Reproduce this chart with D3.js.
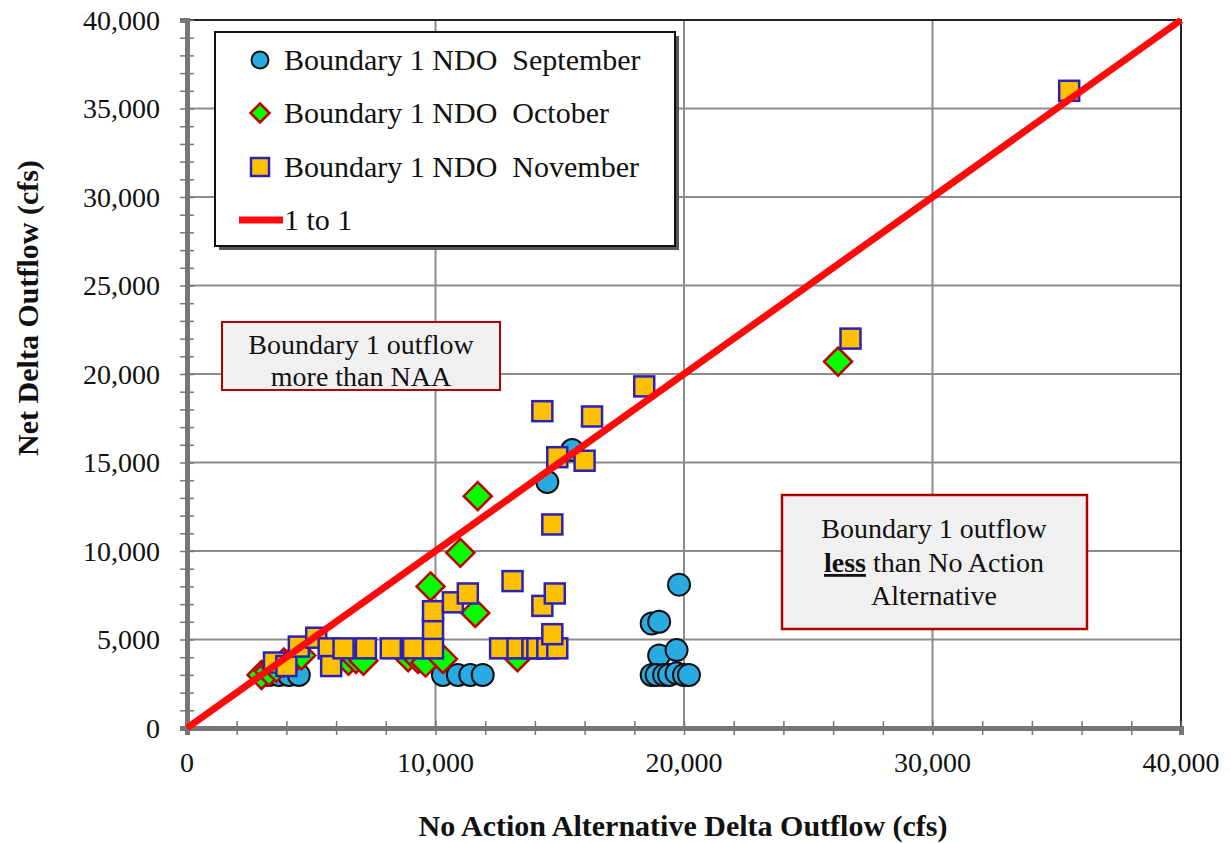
<!DOCTYPE html>
<html>
<head>
<meta charset="utf-8">
<script src="https://cdn.jsdelivr.net/npm/d3@7"></script>
<style>
  body { margin: 0; background: #fff; }
  svg { display: block; }
  text { font-family: "Liberation Serif", "Times New Roman", serif; fill: #111; }
</style>
</head>
<body>
<div id="chart"></div>
<script>
// values
const sepX = [3300, 3700, 4100, 4500, 10300, 10900, 11400, 11900, 14500, 15500, 18700, 19000, 19000, 19700, 19800, 18700, 18900, 19200, 19400, 19700, 20000, 20200];
const sepY = [3000, 3000, 3000, 3000, 3000, 3000, 3000, 3000, 13900, 15700, 5900, 6000, 4100, 4400, 8100, 3000, 3000, 3000, 3000, 3100, 3000, 3000];

const octX = [3000, 3300, 3600, 3900, 4300, 4600, 6500, 6800, 7100, 8900, 9300, 9600, 10300, 9800, 11000, 11600, 11700, 13300, 26200];
const octY = [3000, 3200, 3400, 3700, 3900, 4100, 3800, 3900, 3800, 4000, 3900, 3700, 3900, 8000, 9900, 6500, 13100, 4000, 20700];

const novX = [3500, 4000, 4500, 5200, 5700, 5800, 6300, 7200, 8200, 9100, 9900, 9900, 9900, 10700, 11300, 12600, 13300, 13100, 13900, 14100, 14500, 14900, 14700, 14300, 14800, 14700, 14900, 16000, 14300, 16300, 18400, 26700, 35500];
const novY = [3700, 3500, 4600, 5100, 4500, 3500, 4500, 4500, 4500, 4500, 4500, 5600, 6600, 7100, 7600, 4500, 4500, 8300, 4500, 4500, 4500, 4500, 5300, 6900, 7600, 11500, 15300, 15100, 17900, 17600, 19300, 22000, 36000];

const oneToOne = [0, 40000];
const majorTicks = [0, 10000, 20000, 30000, 40000];
const yTicks = [0, 5000, 10000, 15000, 20000, 25000, 30000, 35000, 40000];

const legendLabels = ['Boundary 1 NDO  September', 'Boundary 1 NDO  October', 'Boundary 1 NDO  November', '1 to 1'];

const W = 1231, H = 843;
const margin = { top: 20, right: 50, bottom: 115, left: 187 };

const svg = d3.select('#chart').append('svg')
  .attr('width', W)
  .attr('height', H);

const x = d3.scaleLinear().domain([0, 40000]).range([margin.left, W - margin.right]);
const y = d3.scaleLinear().domain([0, 40000]).range([H - margin.bottom, margin.top]);
const fmt = d3.format(',');

// grid
svg.append('g')
  .selectAll('line')
  .data(majorTicks.slice(1, -1))
  .enter().append('line')
  .attr('x1', d => x(d)).attr('x2', d => x(d))
  .attr('y1', y(0)).attr('y2', y(40000))
  .attr('stroke', '#8c8c8c').attr('stroke-width', 2);

svg.append('g')
  .selectAll('line')
  .data(yTicks.slice(1, -1))
  .enter().append('line')
  .attr('x1', x(0)).attr('x2', x(40000))
  .attr('y1', d => y(d)).attr('y2', d => y(d))
  .attr('stroke', '#8c8c8c').attr('stroke-width', 2);

// frame top / right
svg.append('path')
  .attr('d', `M${x(0)},${y(40000)}H${x(40000)}V${y(0)}`)
  .attr('fill', 'none').attr('stroke', '#222').attr('stroke-width', 2);

// axes
const xAxis = svg.append('g')
  .attr('transform', `translate(0,${y(0)})`)
  .call(d3.axisBottom(x).tickValues(d3.range(0, 40001, 2000)).tickSize(7).tickFormat(''));
xAxis.selectAll('.tick line').attr('y1', -7).attr('stroke', '#777').attr('stroke-width', 1.5);
xAxis.select('.domain').attr('stroke', '#777').attr('stroke-width', 5);

const yAxis = svg.append('g')
  .attr('transform', `translate(${x(0)},0)`)
  .call(d3.axisLeft(y).tickValues(d3.range(0, 40001, 1000)).tickSize(7).tickFormat(''));
yAxis.selectAll('.tick line').attr('x1', 7).attr('stroke', '#777').attr('stroke-width', 1.5);
yAxis.select('.domain').attr('stroke', '#777').attr('stroke-width', 5);

// tick labels
svg.append('g').selectAll('text')
  .data(majorTicks)
  .enter().append('text')
  .attr('x', d => x(d))
  .attr('y', y(0) + 44)
  .attr('text-anchor', 'middle')
  .style('font-size', '28px')
  .text(d => fmt(d));

svg.append('g').selectAll('text')
  .data(yTicks)
  .enter().append('text')
  .attr('x', x(0) - 27)
  .attr('y', d => y(d))
  .attr('dy', '0.35em')
  .attr('text-anchor', 'end')
  .style('font-size', '28px')
  .text(d => fmt(d));

// axis titles
svg.append('text')
  .attr('x', 683).attr('y', 836)
  .attr('text-anchor', 'middle')
  .style('font-size', '30px').style('font-weight', 'bold')
  .text('No Action Alternative Delta Outflow (cfs)');

svg.append('text')
  .attr('transform', 'translate(38,308) rotate(-90)')
  .attr('text-anchor', 'middle')
  .style('font-size', '30px').style('font-weight', 'bold')
  .text('Net Delta Outflow (cfs)');

// markers
const sep = sepX.map((v, i) => ({ x: v, y: sepY[i] }));
const oct = octX.map((v, i) => ({ x: v, y: octY[i] }));
const nov = novX.map((v, i) => ({ x: v, y: novY[i] }));

svg.append('g').selectAll('circle')
  .data(sep)
  .enter().append('circle')
  .attr('cx', d => x(d.x)).attr('cy', d => y(d.y))
  .attr('r', 11)
  .attr('fill', '#29abe2').attr('stroke', '#111').attr('stroke-width', 2);

svg.append('g').selectAll('path')
  .data(oct)
  .enter().append('path')
  .attr('transform', d => `translate(${x(d.x)},${y(d.y)})`)
  .attr('d', 'M0,-14L14,0L0,14L-14,0Z')
  .attr('fill', '#00ff00').attr('stroke', '#c00000').attr('stroke-width', 2.5);

svg.append('g').selectAll('rect')
  .data(nov)
  .enter().append('rect')
  .attr('x', d => x(d.x) - 10).attr('y', d => y(d.y) - 10)
  .attr('width', 20).attr('height', 20)
  .attr('fill', '#ffc000').attr('stroke', '#2a22b8').attr('stroke-width', 2.5);

// 1 to 1 line
svg.append('line')
  .attr('x1', x(oneToOne[0])).attr('y1', y(oneToOne[0]))
  .attr('x2', x(oneToOne[1])).attr('y2', y(oneToOne[1]))
  .attr('stroke', '#ff0a0a').attr('stroke-width', 7);

// legend
const lg = svg.append('g');
lg.append('rect').attr('x', 219).attr('y', 36).attr('width', 460).attr('height', 214).attr('fill', '#555');
lg.append('rect').attr('x', 215).attr('y', 32).attr('width', 460).attr('height', 214)
  .attr('fill', '#fff').attr('stroke', '#111').attr('stroke-width', 2);

const rowY = [60, 113, 167, 220];
lg.append('circle').attr('cx', 260).attr('cy', rowY[0]).attr('r', 8.5)
  .attr('fill', '#29abe2').attr('stroke', '#111').attr('stroke-width', 2);
lg.append('path').attr('transform', `translate(260,${rowY[1]})`).attr('d', 'M0,-9.5L9.5,0L0,9.5L-9.5,0Z')
  .attr('fill', '#00ff00').attr('stroke', '#c00000').attr('stroke-width', 2.5);
lg.append('rect').attr('x', 251).attr('y', rowY[2] - 9).attr('width', 18).attr('height', 18)
  .attr('fill', '#ffc000').attr('stroke', '#2a22b8').attr('stroke-width', 2.5);
lg.append('line').attr('x1', 239).attr('x2', 283).attr('y1', rowY[3]).attr('y2', rowY[3])
  .attr('stroke', '#ff0a0a').attr('stroke-width', 7);

lg.selectAll('text.lab')
  .data(legendLabels)
  .enter().append('text')
  .attr('class', 'lab')
  .attr('x', 284)
  .attr('y', (d, i) => rowY[i] + 10)
  .attr('xml:space', 'preserve')
  .style('white-space', 'pre')
  .style('font-size', '30px')
  .text(d => d);

// annotation boxes
const b1 = svg.append('g');
b1.append('rect').attr('x', 222).attr('y', 322).attr('width', 278).attr('height', 68)
  .attr('fill', '#f0f0f0').attr('stroke', '#b00000').attr('stroke-width', 2);
b1.append('text').attr('x', 361).attr('y', 354).attr('text-anchor', 'middle').style('font-size', '28px')
  .text('Boundary 1 outflow');
b1.append('text').attr('x', 361).attr('y', 386).attr('text-anchor', 'middle').style('font-size', '28px')
  .text('more than NAA');

const b2 = svg.append('g');
b2.append('rect').attr('x', 782).attr('y', 495).attr('width', 305).attr('height', 134)
  .attr('fill', '#f0f0f0').attr('stroke', '#b00000').attr('stroke-width', 2.5);
b2.append('text').attr('x', 934).attr('y', 538).attr('text-anchor', 'middle').style('font-size', '28px')
  .text('Boundary 1 outflow');
const l2 = b2.append('text').attr('x', 934).attr('y', 572).attr('text-anchor', 'middle').style('font-size', '28px');
l2.append('tspan').style('font-weight', 'bold').style('text-decoration', 'underline').text('less');
l2.append('tspan').text(' than No Action');
b2.append('text').attr('x', 934).attr('y', 605).attr('text-anchor', 'middle').style('font-size', '28px')
  .text('Alternative');
</script>
</body>
</html>
